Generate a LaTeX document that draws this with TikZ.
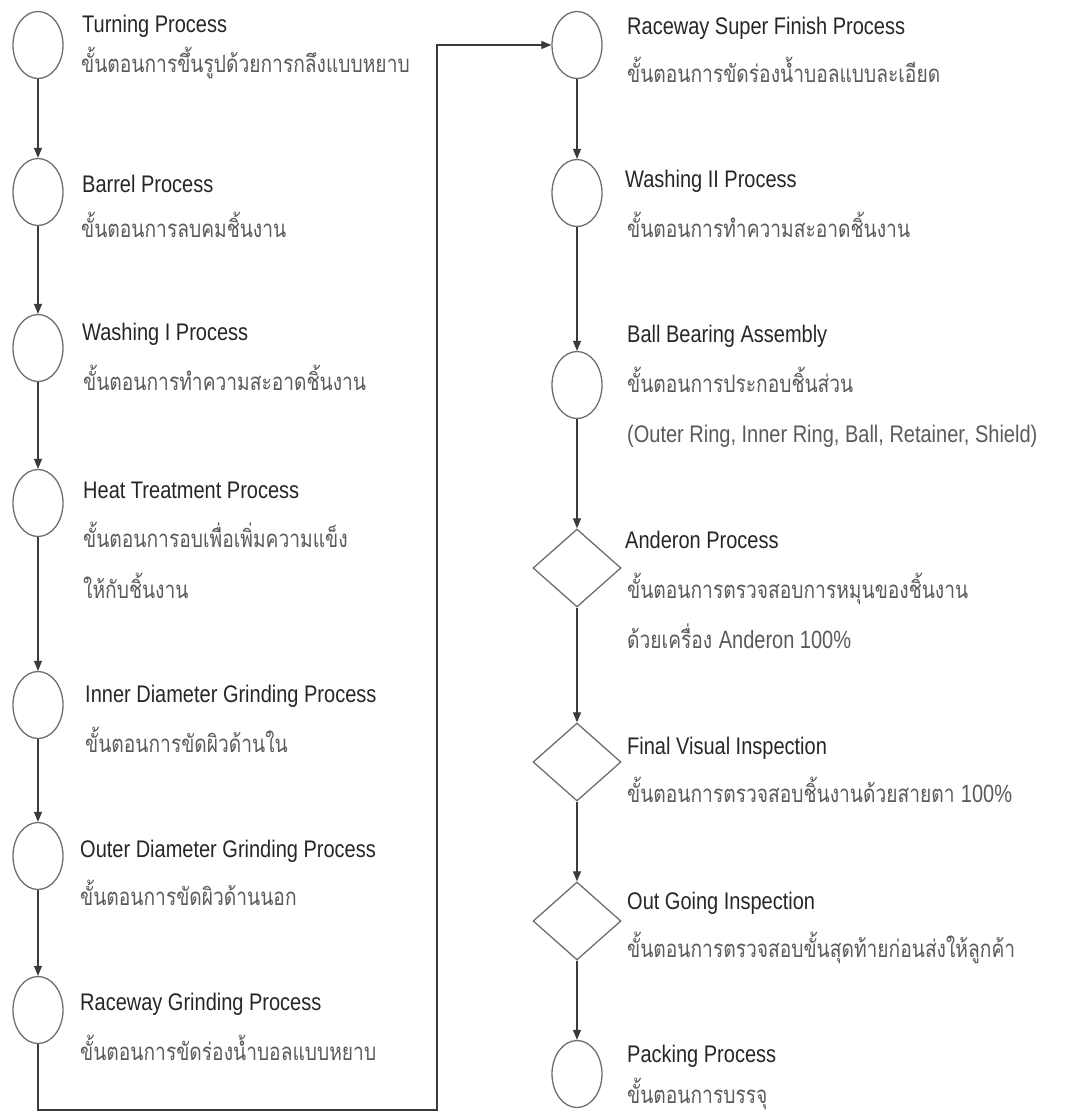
\documentclass[tikz,border=0pt]{standalone}
\usepackage{graphicx}
\usepackage{fontspec}
\setmainfont{Liberation Sans}
\newfontfamily\latinfont{Liberation Sans}
\newfontfamily\thaifont[Script=Thai]{Loma}
\usetikzlibrary{shapes.geometric,arrows.meta}
\definecolor{titlecol}{HTML}{262626}
\definecolor{thaicol}{HTML}{5A5A5A}
\definecolor{linecol}{HTML}{3A3A3A}
\definecolor{shapecol}{HTML}{6E6E6E}
\newcommand{\vst}[1]{\scalebox{1}[1.2]{#1}}
\newcommand{\vth}[1]{\scalebox{1}[1.25]{#1}}
\tikzset{
  proc/.style={ellipse, draw=shapecol, line width=1.3pt, minimum width=50pt, minimum height=67pt, inner sep=0pt},
  check/.style={diamond, draw=shapecol, line width=1.3pt, minimum width=88pt, minimum height=78pt, inner sep=0pt},
  ttl/.style={anchor=base west, inner sep=0pt, text=titlecol, font=\fontsize{20}{24}\selectfont},
  thai/.style={anchor=base west, inner sep=0pt, text=thaicol, font=\thaifont\fontsize{19.2}{23}\selectfont},
  sub/.style={anchor=base west, inner sep=0pt, text=thaicol, font=\fontsize{20}{24}\selectfont},
  flow/.style={draw=linecol, line width=1.2pt, -{Triangle[length=10pt,width=8pt]}}
}
\begin{document}
\begin{tikzpicture}[x=1pt,y=-1pt]
\useasboundingbox (0,0) rectangle (1066,1119);
% left column shapes
\node[proc] (turn) at (38,45) {};
\node[proc] (barrel) at (38,192) {};
\node[proc] (wash1) at (38,348) {};
\node[proc] (heat) at (38,503) {};
\node[proc] (inner) at (38,705) {};
\node[proc] (outer) at (38,856) {};
\node[proc] (rgrind) at (38,1010) {};
% right column shapes
\node[proc] (rsf) at (577,45) {};
\node[proc] (wash2) at (577,193) {};
\node[proc] (ball) at (577,385) {};
\node[check] (ander) at (577,568) {};
\node[check] (fvi) at (577,762) {};
\node[check] (ogi) at (577,921) {};
\node[proc] (pack) at (577,1074) {};
% left column texts
\node[ttl] (t1) at (82,32) {\vst{Turning Process}};
\node[thai] (h1) at (81,72) {\vth{ขั้นตอนการขึ้นรูปด้วยการกลึงแบบหยาบ}};
\node[ttl] (t2) at (82,192) {\vst{Barrel Process}};
\node[thai] (h2) at (81,237) {\vth{ขั้นตอนการลบคมชิ้นงาน}};
\node[ttl] (t3) at (82,340) {\vst{Washing I Process}};
\node[thai] (h3) at (83,390) {\vth{ขั้นตอนการทำความสะอาดชิ้นงาน}};
\node[ttl] (t4) at (83,498) {\vst{Heat Treatment Process}};
\node[thai] (h4) at (83,547) {\vth{ขั้นตอนการอบเพื่อเพิ่มความแข็ง}};
\node[thai] (h4b) at (83,598) {\vth{ให้กับชิ้นงาน}};
\node[ttl] (t5) at (85,702) {\vst{Inner Diameter Grinding Process}};
\node[thai] (h5) at (85,752) {\vth{ขั้นตอนการขัดผิวด้านใน}};
\node[ttl] (t6) at (80,857) {\vst{Outer Diameter Grinding Process}};
\node[thai] (h6) at (80,905) {\vth{ขั้นตอนการขัดผิวด้านนอก}};
\node[ttl] (t7) at (80,1010) {\vst{Raceway Grinding Process}};
\node[thai] (h7) at (80,1060) {\vth{ขั้นตอนการขัดร่องน้ำบอลแบบหยาบ}};
% right column texts
\node[ttl] (t8) at (627,34) {\vst{Raceway Super Finish Process}};
\node[thai] (h8) at (627,82) {\vth{ขั้นตอนการขัดร่องน้ำบอลแบบละเอียด}};
\node[ttl] (t9) at (625,187) {\vst{Washing II Process}};
\node[thai] (h9) at (627,237) {\vth{ขั้นตอนการทำความสะอาดชิ้นงาน}};
\node[ttl] (t10) at (627,342) {\vst{Ball Bearing Assembly}};
\node[thai] (h10) at (627,392) {\vth{ขั้นตอนการประกอบชิ้นส่วน}};
\node[sub] (s10) at (627,442) {\vst{(Outer Ring, Inner Ring, Ball, Retainer, Shield)}};
\node[ttl] (t11) at (625,548) {\vst{Anderon Process}};
\node[thai] (h11) at (627,598) {\vth{ขั้นตอนการตรวจสอบการหมุนของชิ้นงาน}};
\node[thai] (h11b) at (627,648) {\vth{ด้วยเครื่อง {\latinfont\fontsize{20}{24}\selectfont Anderon 100\%}}};
\node[ttl] (t12) at (627,754) {\vst{Final Visual Inspection}};
\node[thai] (h12) at (627,802) {\vth{ขั้นตอนการตรวจสอบชิ้นงานด้วยสายตา {\latinfont\fontsize{20}{24}\selectfont 100\%}}};
\node[ttl] (t13) at (627,909) {\vst{Out Going Inspection}};
\node[thai] (h13) at (627,957) {\vth{ขั้นตอนการตรวจสอบขั้นสุดท้ายก่อนส่งให้ลูกค้า}};
\node[ttl] (t14) at (627,1062) {\vst{Packing Process}};
\node[thai] (h14) at (627,1103) {\vth{ขั้นตอนการบรรจุ}};
% connectors
\draw[flow] (turn) -- (barrel);
\draw[flow] (barrel) -- (wash1);
\draw[flow] (wash1) -- (heat);
\draw[flow] (heat) -- (inner);
\draw[flow] (inner) -- (outer);
\draw[flow] (outer) -- (rgrind);
\coordinate (bend) at (437,1110);
\draw[flow] (rgrind.south) |- (bend) |- (rsf.west);
\draw[flow] (rsf) -- (wash2);
\draw[flow] (wash2) -- (ball);
\draw[flow] (ball) -- (ander);
\draw[flow] (ander) -- (fvi);
\draw[flow] (fvi) -- (ogi);
\draw[flow] (ogi) -- (pack);
\end{tikzpicture}
\end{document}
